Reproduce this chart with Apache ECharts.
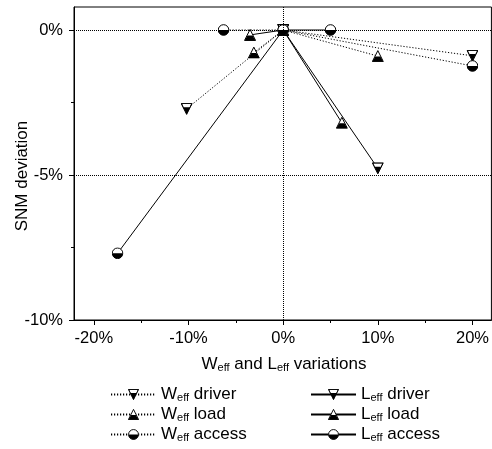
<!DOCTYPE html>
<html>
<head>
<meta charset="utf-8">
<script src="https://cdn.jsdelivr.net/npm/echarts@6/dist/echarts.min.js"></script>
<style>html,body{margin:0;padding:0;background:#fff}#c{width:492px;height:449px}</style>
</head>
<body>
<div id="c"></div>
<script>
// ---- data (percent) ----
const wDriverX = [-10.2, 0, 20];
const wDriverY = [-2.72, 0, -0.89];
const wLoadX = [-3.1, 0, 10];
const wLoadY = [-0.78, 0, -0.9];
const wAccessX = [-6.3, 0, 20];
const wAccessY = [0, 0, -1.24];
const lDriverX = [0, 10];
const lDriverY = [0, -4.77];
const lLoadX = [-3.5, 0, 6.2];
const lLoadY = [-0.17, 0, -3.2];
const lAccessX = [-17.5, 0, 5];
const lAccessY = [-7.7, 0, 0];
const xMajorTicks = [-20, -10, 0, 10, 20];
const xMinorTicks = [-15, -5, 5, 15];
const yMajorTicks = [0, -5, -10];
const yMinorTicks = [-2.5, -7.5];

function svgSym(body) {
  const svg = '<svg xmlns="http://www.w3.org/2000/svg" width="12" height="12" viewBox="0 0 12 12">' + body + '</svg>';
  return 'image://data:image/svg+xml;charset=utf-8,' + encodeURIComponent(svg);
}
const symDown = svgSym('<polygon points="0.5,0.5 11.5,0.5 6,11.5" fill="#000"/><polygon points="1.6,1.2 10.4,1.2 9.0,4.3 3.0,4.3" fill="#fff"/><polygon points="0.5,0.5 11.5,0.5 6,11.5" fill="none" stroke="#000" stroke-width="1"/>');
const symUp = svgSym('<polygon points="6,0.5 11.5,11.5 0.5,11.5" fill="#fff" stroke="#000" stroke-width="1"/><polygon points="3.5,6.5 8.5,6.5 11.5,11.5 0.5,11.5" fill="#000"/>');
const symCirc = svgSym('<circle cx="6" cy="6" r="5.3" fill="#fff" stroke="#000" stroke-width="1"/><path d="M0.7,6 A5.3,5.3 0 0 0 11.3,6 Z" fill="#000"/>');

function pts(xs, ys) { return xs.map((x, i) => [x, ys[i]]); }

const dotted = [1.2, 1.8];
const names = {
  'Wd': ['W', ' driver'], 'Wl': ['W', ' load'], 'Wa': ['W', ' access'],
  'Ld': ['L', ' driver'], 'Ll': ['L', ' load'], 'La': ['L', ' access']
};
const FONT = 'Liberation Sans, Arial, sans-serif';
const rich = {
  n: { fontSize: 17, fontFamily: FONT, color: '#000', lineHeight: 18 },
  s: { fontSize: 11, fontFamily: FONT, color: '#000', lineHeight: 11, verticalAlign: 'bottom' }
};

function mkSeries(name, xs, ys, sym, dash) {
  return {
    name: name, type: 'line', data: pts(xs, ys),
    symbol: sym, symbolSize: 12, showSymbol: true,
    lineStyle: { color: '#000', width: 1, type: dash ? dotted : 'solid' },
    itemStyle: { color: '#000' },
    z: dash ? 3 : 4,
    animation: false
  };
}

const series = [
  mkSeries('Wd', wDriverX, wDriverY, symDown, true),
  mkSeries('Wl', wLoadX, wLoadY, symUp, true),
  mkSeries('Wa', wAccessX, wAccessY, symCirc, true),
  mkSeries('Ld', lDriverX, lDriverY, symDown, false),
  mkSeries('Ll', lLoadX, lLoadY, symUp, false),
  mkSeries('La', lAccessX, lAccessY, symCirc, false)
];
series[0].markLine = {
  silent: true, symbol: 'none', label: { show: false }, animation: false,
  lineStyle: { color: '#000', width: 1, type: [1, 1] },
  data: [{ yAxis: 0 }, { yAxis: -5 }, { xAxis: 0 }]
};

const pct = v => (Math.round(v) === 0 ? '0' : String(Math.round(v))) + '%';

const legendOrder = [['Wd', 110, 395], ['Wl', 110, 415], ['Wa', 110, 435], ['Ld', 310, 395], ['Ll', 310, 415], ['La', 310, 435]];
const legends = legendOrder.map(([n, left, cy]) => ({
  data: [n], orient: 'horizontal', left: left, top: cy - 9, padding: 0,
  itemWidth: 45, itemHeight: 14, selectedMode: false,
  formatter: nm => '{n|' + names[nm][0] + '}{s|eff}{n|' + names[nm][1] + '}',
  textStyle: { rich: rich, fontSize: 17, fontFamily: FONT, color: '#000' }
}));

const chart = echarts.init(document.getElementById('c'), null, { renderer: 'canvas' });
chart.setOption({
  animation: false,
  backgroundColor: '#fff',
  grid: { left: 74, top: 7, width: 420.3, height: 313, show: true, borderColor: '#000', borderWidth: 1, backgroundColor: 'transparent' },
  xAxis: [{
    type: 'value', min: -22.1, max: 22, position: 'bottom',
    axisLine: { show: true, onZero: false, lineStyle: { color: '#000', width: 1 } },
    axisTick: { show: true, customValues: xMajorTicks, length: 5, lineStyle: { color: '#000' } },
    axisLabel: { show: true, customValues: xMajorTicks, formatter: pct, margin: 10, fontSize: 16.5, fontFamily: FONT, color: '#000' },
    splitLine: { show: false }
  }, {
    type: 'value', min: -22.1, max: 22, position: 'bottom', gridIndex: 0,
    axisLine: { show: false, onZero: false },
    axisTick: { show: true, customValues: xMinorTicks, length: 3, lineStyle: { color: '#000' } },
    axisLabel: { show: false },
    splitLine: { show: false }
  }],
  yAxis: [{
    type: 'value', min: -10, max: 0.793, position: 'left',
    axisLine: { show: true, onZero: false, lineStyle: { color: '#000', width: 1 } },
    axisTick: { show: true, customValues: yMajorTicks, length: 5, lineStyle: { color: '#000' } },
    axisLabel: { show: true, customValues: yMajorTicks, formatter: pct, margin: 11, fontSize: 16.5, fontFamily: FONT, color: '#000' },
    splitLine: { show: false }
  }, {
    type: 'value', min: -10, max: 0.793, position: 'left', gridIndex: 0,
    axisLine: { show: false, onZero: false },
    axisTick: { show: true, customValues: yMinorTicks, length: 3, lineStyle: { color: '#000' } },
    axisLabel: { show: false },
    splitLine: { show: false }
  }],
  legend: legends,
  graphic: [{
    type: 'text', x: 284, y: 364, silent: true,
    style: { text: '{n|W}{s|eff}{n| and L}{s|eff}{n| variations}', rich: rich, align: 'center', verticalAlign: 'middle' }
  }, {
    type: 'text', x: 22, y: 176, rotation: Math.PI / 2, silent: true,
    style: { text: 'SNM deviation', fontSize: 17, fontFamily: FONT, fill: '#000', align: 'center', verticalAlign: 'middle' }
  }],
  series: series
});
</script>
</body>
</html>
